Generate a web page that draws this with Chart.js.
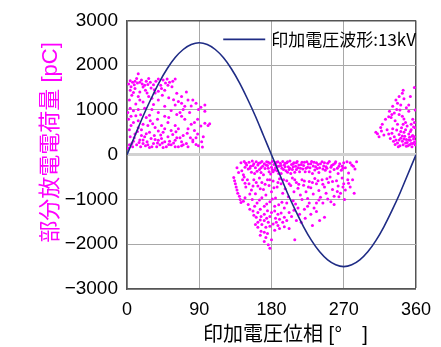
<!DOCTYPE html>
<html>
<head>
<meta charset="utf-8">
<script src="https://cdn.jsdelivr.net/npm/chart.js@4"></script>
<style>
  body { margin: 0; background: #fff; }
  #wrap { width: 441px; height: 347px; }
</style>
</head>
<body>
<div id="wrap"><canvas id="chartPlace"></canvas></div>
<script>
const wavePhase = [0,10,20,30,40,50,60,70,80,90,100,110,120,130,140,150,160,170,180,
  190,200,210,220,230,240,250,260,270,280,290,300,310,320,330,340,350,360];
const waveValue = [0,430,860,1250,1610,1920,2170,2350,2460,2500,2460,2350,2170,1920,1610,1250,860,430,0,
  -430,-860,-1250,-1610,-1920,-2170,-2350,-2460,-2500,-2460,-2350,-2170,-1920,-1610,-1250,-860,-430,0];

// partial discharge points [phase, charge pC]
const pdRising = [
  [14,1810],[4,1650],[7,1620],[10,1640],[13,1600],[16,1620],[19,1580],[22,1550],[26,1570],[29,1620],
  [39,1690],[45,1670],[50,1690],[53,1620],[60,1690],[51,1550],[42,1550],[47,1440],[39,1420],[34,1450],
  [20,1510],[23,1440],[10,1480],[4,1440],[6,1330],[14,1300],[3,1220],[27,1300],[31,1260],[39,1220],
  [62,1370],[68,1300],[74,1400],[64,1190],[68,1150],[76,1220],[82,1220],[86,1150],[72,1080],[60,1110],
  [89,1010],[97,1110],[97,970],[78,940],[66,940],[62,900],[47,860],[39,940],[31,1010],[22,1040],
  [14,1010],[4,1040],[1,940],[8,980],[2,790],[8,720],[14,760],[20,680],[26,650],[35,610],
  [43,650],[51,720],[60,650],[64,580],[76,580],[84,540],[101,650],[95,400],[93,290],[82,330],
  [74,250],[68,290],[60,320],[51,400],[47,290],[39,320],[34,430],[28,500],[22,400],[16,330],
  [10,460],[6,250],[12,220],[20,250],[26,220],[33,250],[41,220],[49,180],[55,220],[64,180],
  [76,180],[82,290],[1,150],[3,220],[45,500],[55,540],[38,790],[24,830],[72,790],[84,720],
  [88,790],[18,560],[30,360],[57,450],[70,430],[86,380],[43,360],[14,600],[3,560],[9,380],
  [97,700],[103,690],[89,200],[37,180],[17,180],[58,260],[66,380],[25,290],[31,180],[53,300],
  [8,300],[18,430],[44,260],[70,220],[11,870],[29,760],[35,1380],[56,1520],[16,1220],
  [2,1580],[5,1520],[9,1560],[12,1700],[18,1670],[24,1640],[27,1700],[33,1560],[36,1640],[48,1600],
  [57,1640],[43,1480],[30,1490],[16,1400],[8,1390],[25,1380],[44,1330],[52,1270],[58,1230],[20,1180],
  [11,1130],[33,1120],[47,1080],[55,990],[70,1010],[80,1090],[92,1060],[5,860],[17,890],[28,880],
  [52,830],[68,860],[80,680],[92,640],[47,580],[39,530],[61,510],[24,470],[13,520],[5,650],
  [32,690],[75,480],[88,460],[20,330],[35,340],[42,440],[62,380],[79,380],[4,400],[15,270],
  [28,160],[45,160],[52,230],[60,180],[68,200],[86,230],[94,170],[7,180],[23,200],[38,260]
];
const pdFalling = [
  [142,-180],[146,-150],[149,-230],[152,-170],[154,-260],[156,-140],[158,-200],[160,-290],[161,-160],[163,-230],
  [165,-330],[166,-180],[168,-150],[169,-260],[171,-200],[172,-310],[174,-160],[175,-240],[177,-380],[178,-190],
  [180,-280],[181,-150],[183,-220],[184,-340],[186,-170],[188,-260],[189,-420],[191,-190],[193,-300],[194,-150],
  [196,-230],[198,-360],[199,-180],[201,-270],[203,-140],[205,-220],[206,-330],[208,-180],[210,-260],[212,-150],
  [214,-230],[216,-300],[218,-170],[220,-240],[222,-380],[224,-160],[226,-210],[228,-290],[230,-150],[232,-250],
  [234,-340],[236,-180],[238,-220],[240,-290],[243,-160],[245,-250],[247,-350],[250,-190],[252,-150],[254,-280],
  [257,-220],[260,-160],[262,-300],[265,-200],[268,-250],[270,-180],[274,-160],[276,-410],[280,-230],[284,-320],
  [286,-160],[147,-280],[151,-320],[155,-390],[159,-420],[162,-370],[167,-400],[170,-450],[176,-300],[179,-430],
  [182,-380],[185,-290],[187,-360],[190,-250],[192,-420],[195,-330],[197,-270],[200,-390],[202,-330],[204,-420],
  [207,-270],[209,-390],[211,-330],[215,-380],[219,-320],[223,-300],[227,-380],[231,-420],[235,-270],[239,-400],
  [244,-320],[248,-270],[253,-380],[258,-330],[263,-420],[267,-350],[272,-290],[137,-290],[139,-400],[143,-360],
  [145,-450],[133,-510],[134,-580],[135,-650],[136,-720],[137,-790],[138,-860],[140,-930],[141,-1000],[142,-1070],
  [146,-500],[150,-560],[148,-720],[152,-650],[155,-790],[158,-560],[160,-870],[163,-700],[165,-520],[168,-620],
  [170,-780],[173,-900],[175,-560],[177,-690],[180,-830],[182,-590],[185,-970],[187,-720],[190,-540],[192,-650],
  [194,-860],[197,-760],[199,-580],[201,-940],[204,-690],[206,-520],[208,-830],[211,-620],[213,-750],[216,-900],
  [218,-560],[220,-680],[223,-830],[225,-980],[227,-600],[229,-740],[232,-880],[234,-530],[236,-650],[239,-800],
  [241,-950],[243,-560],[246,-720],[248,-860],[251,-620],[253,-500],[256,-780],[258,-930],[261,-580],[263,-700],
  [266,-860],[268,-520],[270,-650],[272,-790],[275,-560],[278,-720],[283,-860],[271,-1000],[264,-940],[258,-1110],
  [244,-1080],[233,-1190],[227,-1080],[221,-1220],[213,-1190],[196,-1190],[184,-1150],[171,-1150],[159,-1150],[151,-1110],
  [153,-1220],[145,-1040],[165,-1010],[178,-1050],[193,-1060],[207,-1030],[218,-1000],[239,-1010],[250,-990],[163,-1290],
  [171,-1330],[180,-1290],[188,-1330],[196,-1400],[202,-1290],[215,-1330],[229,-1330],[246,-1400],[161,-1400],[163,-1510],
  [171,-1470],[176,-1510],[182,-1550],[186,-1510],[194,-1510],[211,-1470],[217,-1510],[231,-1580],[240,-1470],[163,-1620],
  [167,-1710],[171,-1730],[184,-1690],[190,-1650],[202,-1650],[173,-1850],[171,-1940],[176,-2010],[178,-2090],[209,-1900],
  [157,-1260],[167,-1380],[174,-1420],[190,-1440],[205,-1380],[222,-1420],[178,-1600],[160,-1560],
  [148,-190],[153,-300],[157,-240],[164,-190],[167,-290],[173,-230],[176,-170],[181,-330],[185,-200],[188,-160],
  [192,-240],[197,-190],[200,-160],[203,-300],[207,-200],[211,-180],[213,-290],[217,-220],[221,-170],[225,-280],
  [229,-200],[233,-170],[237,-310],[241,-200],[246,-180],[249,-300],[255,-240],[259,-190],[264,-260],[269,-300],
  [278,-180],[282,-260],[144,-560],[147,-640],[153,-880],[157,-700],[161,-620],[166,-760],[172,-660],[178,-560],
  [183,-740],[188,-620],[195,-560],[202,-650],[209,-560],[214,-660],[221,-590],[226,-720],[231,-620],[238,-580],
  [244,-660],[249,-540],[256,-600],[262,-820],[269,-720],[276,-640],[281,-560],[147,-960],[156,-1000],[162,-1080],
  [168,-960],[174,-1100],[181,-990],[189,-1120],[199,-1080],[210,-1100],[225,-1150],[236,-1080],[254,-1050],[166,-1220],
  [175,-1250],[184,-1260],[192,-1300],[208,-1240],[236,-1270],[158,-1350],[166,-1460],[178,-1380],[185,-1420],[199,-1470],
  [168,-1560],[173,-1620],[188,-1580],[196,-1610],[166,-1800],[175,-1760],[180,-1900]
];
const pdLate = [
  [358,1500],[344,1440],[343,1370],[339,1300],[335,1220],[337,1150],[331,1080],[341,1110],[351,1110],[327,970],
  [333,930],[339,900],[329,830],[322,790],[343,860],[351,970],[356,790],[358,720],[347,720],[318,680],
  [316,610],[312,470],[314,400],[310,500],[336,1010],[330,900],[326,850],[330,480],[333,400],[335,330],
  [337,260],[339,450],[341,370],[343,300],[344,220],[346,410],[348,340],[349,270],[350,200],[351,460],
  [352,390],[353,320],[354,250],[355,180],[356,430],[357,350],[358,280],[359,220],[340,200],[345,500],
  [332,300],[336,550],[342,600],[347,560],[353,520],[357,620],[328,360],[338,180],[348,190],[354,560],
  [349,640],[344,680],[324,560],[320,440],
  [345,1250],[348,1050],[353,1300],[340,1000],[334,760],[337,680],[345,800],[354,680],[359,1000],[359,600],
  [331,580],[334,230],[339,330],[343,420],[347,260],[351,330],[356,250],[358,400],[345,350],[352,220],
  [341,520],[326,460],[317,530],[360,300],[355,410]
];

const xTicks = [0, 90, 180, 270, 360];
const yTicks = [-3000, -2000, -1000, 0, 1000, 2000, 3000];

Chart.defaults.font.family = '"Liberation Sans", "Noto Sans CJK JP", sans-serif';
Chart.defaults.color = '#000';

// legend for the wave, drawn inside the plot at top right
const waveLegend = {
  id: 'waveLegend',
  afterDatasetsDraw(chart) {
    const ctx = chart.ctx;
    const area = chart.chartArea;
    const ds = chart.data.datasets[0];
    ctx.save();
    ctx.font = '17px "Noto Sans CJK JP", "Liberation Sans", sans-serif';
    const w = ctx.measureText(ds.label).width;
    const y = area.top + 19;
    const textX = area.right - w;
    ctx.strokeStyle = ds.borderColor;
    ctx.lineWidth = ds.borderWidth;
    ctx.beginPath();
    ctx.moveTo(textX - 48, y);
    ctx.lineTo(textX - 6, y);
    ctx.stroke();
    ctx.fillStyle = '#000';
    ctx.textBaseline = 'middle';
    ctx.fillText(ds.label, textX, y);
    ctx.restore();
  }
};

function createChart() {
  let waveData = [];
  for (let x = 0; x < wavePhase.length; x++) {
    waveData.push({x: wavePhase[x], y: waveValue[x]});
  }
  let pdData = [];
  [pdRising, pdFalling, pdLate].forEach(function(arr) {
    for (let x = 0; x < arr.length; x++) {
      pdData.push({x: arr[x][0], y: arr[x][1]});
    }
  });

  const edge = '#555555';
  const chartPlace = document.getElementById('chartPlace').getContext('2d');
  new Chart(chartPlace, {
    type: 'scatter',
    data: {
      datasets: [{
        label: '印加電圧波形:13kV',
        data: waveData,
        showLine: true,
        borderColor: '#1f2c85',
        borderWidth: 1.6,
        pointRadius: 0,
        tension: 0.35,
        order: 0
      }, {
        label: '部分放電',
        data: pdData,
        backgroundColor: '#ff00ff',
        borderWidth: 0,
        pointRadius: 1.5,
        order: 1
      }]
    },
    plugins: [waveLegend],
    options: {
      responsive: true,
      maintainAspectRatio: false,
      animation: false,
      layout: { padding: { left: 38, top: 11, right: 24, bottom: 0 } },
      plugins: {
        tooltip: { enabled: false },
        legend: { display: false }
      },
      scales: {
        x: {
          type: 'linear',
          min: 0,
          max: 360,
          afterFit: s => { s.height = 58; },
          afterBuildTicks: s => { s.ticks = xTicks.map(v => ({value: v})); },
          border: { color: edge, width: 1.5 },
          grid: {
            drawTicks: false,
            color: c => c.tick && c.tick.value === 360 ? edge : '#a8a8a8',
            lineWidth: c => c.tick && c.tick.value === 360 ? 1.5 : 1
          },
          ticks: { padding: 10, font: { size: 18 }, maxRotation: 0 },
          title: {
            display: true,
            text: '     印加電圧位相 [°　]',
            font: { size: 20 },
            padding: { top: 0, bottom: 0 }
          }
        },
        y: {
          min: -3000,
          max: 3000,
          afterFit: s => { s.width = 89; },
          afterBuildTicks: s => { s.ticks = yTicks.map(v => ({value: v})); },
          border: { color: edge, width: 1.5 },
          grid: {
            drawTicks: false,
            color: c => {
              if (!c.tick) return '#a8a8a8';
              if (c.tick.value === 3000) return edge;
              if (c.tick.value === 0) return '#d2d2d2';
              return '#a8a8a8';
            },
            lineWidth: c => {
              if (!c.tick) return 1;
              if (c.tick.value === 0) return 3;
              if (c.tick.value === 3000) return 1.5;
              return 1;
            }
          },
          ticks: {
            padding: 9,
            font: { size: 19 },
            callback: v => v < 0 ? '\u2212' + Math.abs(v) : String(v)
          },
          title: {
            display: true,
            text: '    部分放電電荷量 [pC]',
            color: '#ff00ff',
            font: { size: 22 },
            padding: { top: 0, bottom: 0 }
          }
        }
      }
    }
  });
}

createChart();
</script>
</body>
</html>
